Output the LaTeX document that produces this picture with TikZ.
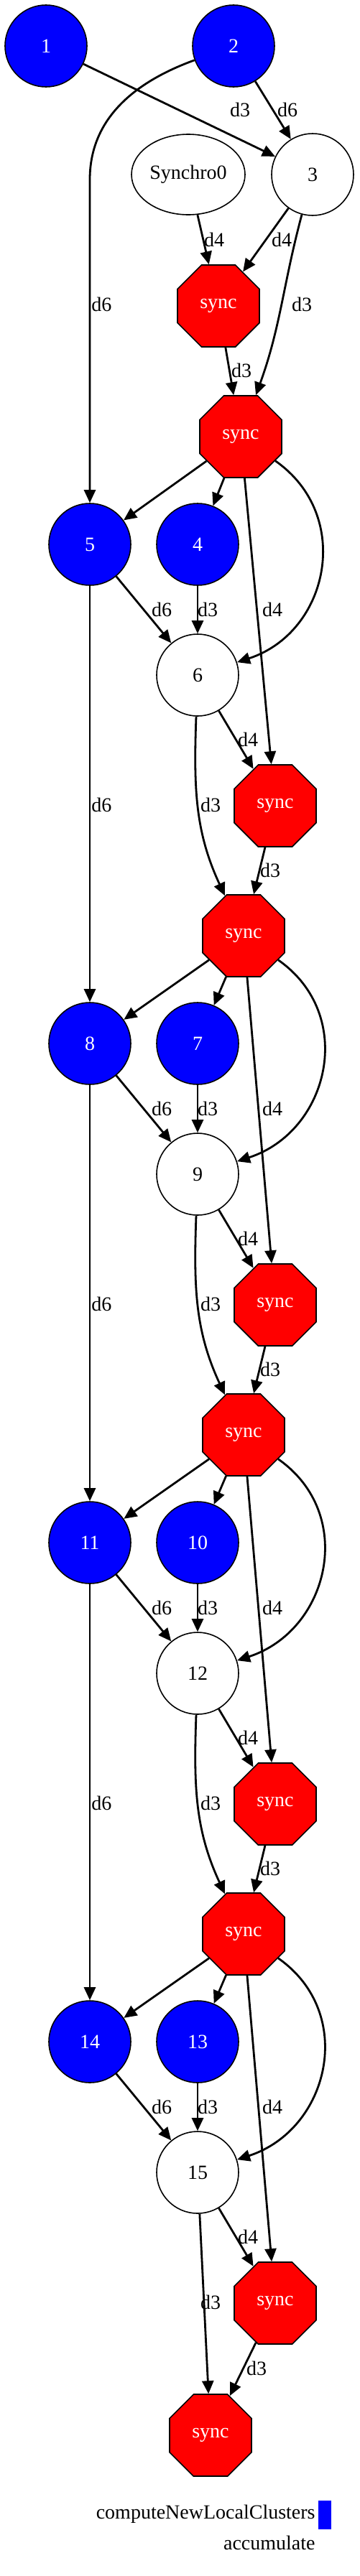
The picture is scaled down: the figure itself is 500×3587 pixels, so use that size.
\documentclass[tikz,border=0pt]{standalone}
\usepackage{fontspec}
\setmainfont{Liberation Serif}
\usetikzlibrary{shapes.geometric,arrows.meta}

\tikzset{
  task/.style={circle,draw,line width=0.8pt,fill=blue,text=white,minimum size=57pt,inner sep=0pt},
  data/.style={circle,draw,line width=0.8pt,fill=white,minimum size=57pt,inner sep=0pt},
  syncnode/.style={regular polygon,regular polygon sides=8,draw,line width=0.8pt,fill=red,text=white,minimum size=61.7pt,inner sep=0pt},
  edge/.style={line width=1.4pt,-{Triangle[length=9pt,width=8pt]}},
  lbl/.style={inner sep=0pt},
}

\begin{document}
\begin{tikzpicture}[x=0.5pt,y=0.5pt,font=\fontsize{14}{16}\selectfont]
\useasboundingbox (0,0) rectangle (500,-3587);
% first row
\node[task] (n1) at (64,-64) {1};
\node[task] (n2) at (325,-64) {2};
\node[data] (n3) at (435,-243) {3};
\node[draw,ellipse,line width=0.8pt,minimum width=79pt,minimum height=56pt,inner sep=0pt] (syn) at (262,-243) {Synchro0};
\node[syncnode] (s0) at (304,-426) {sync};
\node[syncnode] (m0) at (335,-608) {sync};
\foreach \j in {1,2,3}
  \node[syncnode] (m\j) at (339,-608-695*\j) {sync};
\node[syncnode] (m4) at (293,-3391) {sync};

\draw[edge] (n1) -- (n3);
\draw[edge] (n2) -- (n3);
\draw[edge] (syn) -- (s0);
\draw[edge] (n3) -- (s0);
\draw[edge] (n3) to[out=-105,in=70] (m0);
\draw[edge] (s0) -- (m0);
\node[lbl] at (334,-153) {d3};
\node[lbl] at (400,-153) {d6};
\node[lbl,anchor=west] at (127,-424) {d6};
\node[lbl] at (298,-334) {d4};
\node[lbl] at (392,-334) {d4};
\node[lbl] at (420,-424) {d3};
\node[lbl] at (336,-516) {d3};

% repeated rows
\foreach \i in {0,...,3}{
  \pgfmathtruncatemacro\a{4+3*\i}
  \pgfmathtruncatemacro\b{5+3*\i}
  \pgfmathtruncatemacro\c{6+3*\i}
  \pgfmathtruncatemacro\j{\i+1}
  \pgfmathsetmacro\y{-695*\i}
  \node[task] (L\i) at (125,\y-758) {\b};
  \node[task] (M\i) at (275,\y-758) {\a};
  \node[data] (W\i) at (275,\y-940) {\c};
  \node[syncnode] (R\i) at (383,\y-1122) {sync};
  \draw[edge] (m\i) -- (L\i);
  \draw[edge] (m\i) -- (M\i);
  \draw[edge] (m\i) -- (R\i);
  \draw[edge] (m\i) to[out=-35,in=18,looseness=1.2] (W\i);
  \draw[edge] (L\i) -- (W\i);
  \draw[edge] (M\i) -- (W\i);
  \draw[edge] (W\i) -- (R\i);
  \draw[edge] (R\i) -- (m\j);
  \node[lbl] at (225,\y-849) {d6};
  \node[lbl] at (289,\y-849) {d3};
  \node[lbl] at (379,\y-849) {d4};
  \node[lbl] at (345,\y-1030) {d4};
  \node[lbl] at (293,\y-1121) {d3};
  \ifnum\i<3
    \draw[edge] (W\i) to[out=-92,in=115] (m\j);
    \node[lbl] at (376,\y-1212) {d3};
  \else
    \draw[edge] (W\i) -- (m\j);
    \node[lbl] at (357,-3298) {d3};
  \fi
  \ifnum\i>0
    \pgfmathtruncatemacro\k{\i-1}
    \draw[edge] (L\k) -- (L\i);
    \node[lbl,anchor=west] at (127,\y+695-1121) {d6};
  \fi
}
\coordinate (b2) at (125,-250);
\draw[edge] (n2) to[out=200,in=90] (b2) -- (L0);

% legend
\node[lbl,anchor=east] (leg1) at (439,-3501) {computeNewLocalClusters};
\node[fill=blue,inner sep=0pt,minimum width=9pt,minimum height=20pt,anchor=west] (key1) at (443,-3502) {};
\node[lbl,anchor=east] (leg2) at (439,-3541) {accumulate};
\end{tikzpicture}
\end{document}
